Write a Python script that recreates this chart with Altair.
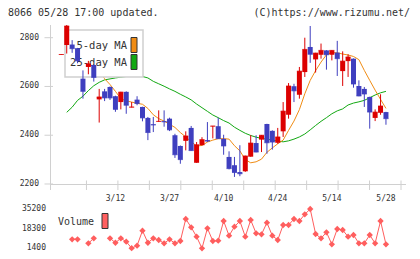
import altair as alt
import pandas as pd

# ---- session data (61 trading days, index 0 .. 60) ----
opens = [2729, 2770, 2772, 2757, 2632, 2680, 2688, 2547, 2580, 2598,
         2560, 2536, 2578, 2514, 2546, 2516, 2471, 2445, 2455, 2458,
         2468, 2400, 2356, 2377, 2430, 2287, 2359, 2380, 2436, 2437,
         2385, 2311, 2277, 2249, 2252, 2312, 2368, 2382, 2446, 2418,
         2369, 2416, 2484, 2601, 2566, 2659, 2762, 2711, 2730, 2748,
         2730, 2739, 2663, 2704, 2714, 2602, 2590, 2557, 2471, 2492,
         2495]
highs = [2731, 2852, 2790, 2758, 2666, 2705, 2690, 2590, 2590, 2600,
         2562, 2578, 2580, 2536, 2560, 2517, 2475, 2475, 2502, 2502,
         2472, 2406, 2358, 2416, 2438, 2372, 2392, 2454, 2438, 2472,
         2402, 2334, 2311, 2359, 2316, 2400, 2400, 2401, 2447, 2420,
         2430, 2536, 2614, 2611, 2680, 2800, 2848, 2738, 2776, 2749,
         2749, 2787, 2744, 2732, 2715, 2625, 2598, 2558, 2506, 2568,
         2496]
lows = [2729, 2735, 2738, 2695, 2550, 2650, 2620, 2452, 2540, 2545,
        2496, 2506, 2488, 2514, 2523, 2457, 2380, 2413, 2455, 2435,
        2417, 2307, 2283, 2338, 2337, 2287, 2359, 2372, 2387, 2386,
        2320, 2260, 2229, 2232, 2250, 2312, 2330, 2331, 2324, 2341,
        2365, 2393, 2468, 2536, 2550, 2639, 2697, 2657, 2714, 2669,
        2707, 2643, 2602, 2639, 2595, 2560, 2516, 2427, 2458, 2484,
        2443]
closes = [2731, 2848, 2755, 2705, 2580, 2693, 2637, 2557, 2553, 2553,
          2506, 2577, 2523, 2516, 2530, 2471, 2411, 2442, 2457, 2455,
          2422, 2320, 2300, 2397, 2337, 2361, 2382, 2376, 2438, 2386,
          2356, 2263, 2247, 2242, 2315, 2368, 2331, 2400, 2369, 2372,
          2393, 2499, 2602, 2582, 2663, 2752, 2732, 2737, 2748, 2730,
          2748, 2714, 2704, 2721, 2610, 2561, 2569, 2495, 2495, 2520,
          2468]
ma5 = [None, 2688, 2722, 2725, 2715, 2705, 2690, 2662, 2632, 2608,
       2580, 2550, 2541, 2536, 2531, 2527, 2510, 2484, 2468, 2458,
       2445, 2432, 2411, 2393, 2374, 2356, 2358, 2372, 2380, 2386,
       2386, 2384, 2357, 2336, 2300, 2287, 2291, 2302, 2330, 2348,
       2365, 2380, 2420, 2458, 2505, 2570, 2625, 2665, 2700, 2730,
       2739, 2738, 2733, 2729, 2723, 2710, 2666, 2625, 2585, 2547,
       2510]
ma25 = [None, 2494, 2515, 2543, 2560, 2583, 2603, 2617, 2627, 2631,
        2635, 2638, 2641, 2642, 2642, 2641, 2635, 2621, 2611, 2601,
        2590, 2580, 2568, 2557, 2545, 2528, 2513, 2498, 2483, 2472,
        2460, 2450, 2433, 2420, 2408, 2399, 2392, 2387, 2384, 2380,
        2376, 2373, 2377, 2384, 2393, 2405, 2422, 2440, 2457, 2472,
        2488, 2500, 2508, 2524, 2532, 2537, 2543, 2554, 2565, 2574,
        2580]
volume = [None, None, 9140, 9140, None, 5700, 10000, None, None, 10000,
          6200, 10000, 7100, 1500, 3640, 16540, 6200, 10000, 8540, 5700,
          9140, 5700, 7680, 26600, 19460, 11380, 1400, 18600, 7680, 7940,
          24880, 12240, 19980, 24880, 11380, 25740, 14300, 13440, 23420, 12240,
          8540, 21440, 21440, 26600, 24880, 30640, 35200, 13700, 10000, 15160,
          4840, 18000, 17140, 11380, 12840, 5700, 5700, 12840, 5700, 24880,
          4840]

date_ticks = [10, 20, 30, 40, 50, 60]
date_labels = ["3/12", "3/27", "4/10", "4/24", "5/14", "5/28"]
price_ticks = [2200, 2400, 2600, 2800]
volume_ticks = [1400, 18300, 35200]

title_left = "8066 05/28 17:00 updated."
title_right = "(C)https://www.rizumu.net/"

# ---- styling ----
FONT = "DejaVu Sans Mono"
TEXT = "#333333"
GRID = "#d0d0d0"
RED = "#dc0000"
BLUE = "#3f3fbf"
ORANGE = "#f08c14"
GREEN = "#12a812"
VOLC = "#ff5e5e"

W, H = 356, 230
X_DOMAIN = [-1.168, 62.78]
PRICE_DOMAIN = [1908.8, 2852.1]
VOL_DOMAIN = [-4362, 193449]

n = len(closes)
days = list(range(n))

candles = pd.DataFrame({"i": days, "open": opens, "high": highs,
                        "low": lows, "close": closes,
                        "ma5": ma5, "ma25": ma25})
candles["dir"] = ["up" if c >= o else "down" for o, c in zip(opens, closes)]

# split the volume series into runs of consecutive sessions
seg, run, prev = [], 0, None
for v in volume:
    if v is not None and prev is None:
        run += 1
    seg.append(run)
    prev = v
vol_df = pd.DataFrame({"i": days, "vol": volume, "seg": seg}).dropna()

one = pd.DataFrame({"k": [0]})

xs = alt.Scale(domain=X_DOMAIN, nice=False, zero=False)
ps = alt.Scale(domain=PRICE_DOMAIN, nice=False, zero=False)
vs = alt.Scale(domain=VOL_DOMAIN, nice=False, zero=False)
dir_color = alt.Scale(domain=["up", "down"], range=[RED, BLUE])

X = alt.X("i:Q", scale=xs, axis=None)

# ---- price panel ----
ma25_line = alt.Chart(candles).mark_line(color=GREEN, strokeWidth=1).encode(
    x=X, y=alt.Y("ma25:Q", scale=ps, axis=None))
ma5_line = alt.Chart(candles).mark_line(color=ORANGE, strokeWidth=1).encode(
    x=X, y=alt.Y("ma5:Q", scale=ps, axis=None))

legend_box = alt.Chart(one).mark_rect(fill="white", stroke=GRID, strokeWidth=1.5).encode(
    x=alt.value(15), x2=alt.value(93), y=alt.value(5), y2=alt.value(52))
legend_ma5 = alt.Chart(one).mark_text(text="5-day MA", align="right", baseline="middle",
                                      font=FONT, fontSize=10.5, color=TEXT).encode(
    x=alt.value(77), y=alt.value(21))
legend_ma25 = alt.Chart(one).mark_text(text="25-day MA", align="right", baseline="middle",
                                       font=FONT, fontSize=10.5, color=TEXT).encode(
    x=alt.value(77), y=alt.value(37.7))
swatch_ma5 = alt.Chart(one).mark_rect(fill=ORANGE, stroke="#333", strokeWidth=1).encode(
    x=alt.value(81), x2=alt.value(87), y=alt.value(12.5), y2=alt.value(27.5))
swatch_ma25 = alt.Chart(one).mark_rect(fill=GREEN, stroke="#333", strokeWidth=1).encode(
    x=alt.value(81), x2=alt.value(87), y=alt.value(29.5), y2=alt.value(44.5))

wicks = alt.Chart(candles).mark_rule(strokeWidth=1).encode(
    x=X, y=alt.Y("low:Q", scale=ps, axis=None), y2="high:Q",
    color=alt.Color("dir:N", scale=dir_color, legend=None))
bodies = alt.Chart(candles).mark_bar(size=5).encode(
    x=X, y=alt.Y("open:Q", scale=ps, axis=None), y2="close:Q",
    color=alt.Color("dir:N", scale=dir_color, legend=None))
close_marks = alt.Chart(candles).mark_tick(orient="horizontal", size=5, thickness=1).encode(
    x=X, y=alt.Y("close:Q", scale=ps, axis=None),
    color=alt.Color("dir:N", scale=dir_color, legend=None))

# frame lines, tick marks and axis labels
y_line = alt.Chart(one).mark_rule(color=GRID, strokeWidth=1).encode(
    x=alt.value(0.5), y=alt.value(0), y2=alt.value(165))
x_line = alt.Chart(one).mark_rule(color=GRID, strokeWidth=1).encode(
    x=alt.value(0), x2=alt.value(W), y=alt.value(159.5))
x_tick_pos = [X_DOMAIN[0] + k / 11 * (X_DOMAIN[1] - X_DOMAIN[0]) for k in range(1, 12)]
x_ticks = alt.Chart(pd.DataFrame({"t": x_tick_pos})).mark_rule(color=GRID, strokeWidth=1).encode(
    x=alt.X("t:Q", scale=xs, axis=None), y=alt.value(155.5), y2=alt.value(165))
y_ticks = alt.Chart(pd.DataFrame({"p": price_ticks})).mark_rule(color=GRID, strokeWidth=1).encode(
    y=alt.Y("p:Q", scale=ps, axis=None), x=alt.value(-5.5), x2=alt.value(3))

x_labels = alt.Chart(pd.DataFrame({"i": date_ticks, "lab": date_labels})).mark_text(
    align="center", baseline="alphabetic", font=FONT, fontSize=8, color=TEXT).encode(
    x=X, y=alt.value(176), text="lab:N")
y_labels = alt.Chart(pd.DataFrame({"p": price_ticks})).mark_text(
    align="right", baseline="middle", font=FONT, fontSize=8, color=TEXT).encode(
    y=alt.Y("p:Q", scale=ps, axis=None), x=alt.value(-11), text="p:Q")

head_left = alt.Chart(one).mark_text(text=title_left, align="left", baseline="middle",
                                     font=FONT, fontSize=10, color=TEXT).encode(
    x=alt.value(-42), y=alt.value(-12))
head_right = alt.Chart(one).mark_text(text=title_right, align="right", baseline="middle",
                                      font=FONT, fontSize=10, color=TEXT).encode(
    x=alt.value(360), y=alt.value(-12))

price_panel = alt.layer(
    ma25_line, ma5_line, legend_box, legend_ma5, legend_ma25, swatch_ma5, swatch_ma25,
    y_line, x_line, x_ticks, y_ticks, x_labels, y_labels,
    wicks, bodies, close_marks, head_left, head_right)

# ---- volume panel ----
vol_line = alt.Chart(vol_df).mark_line(color=VOLC, strokeWidth=1).encode(
    x=X, y=alt.Y("vol:Q", scale=vs, axis=None), detail="seg:N")
vol_pts = alt.Chart(vol_df).mark_point(shape="diamond", filled=True, size=40,
                                       color=VOLC, opacity=1).encode(
    x=X, y=alt.Y("vol:Q", scale=vs, axis=None))
vol_labels = alt.Chart(pd.DataFrame({"vol": volume_ticks})).mark_text(
    align="right", baseline="middle", font=FONT, fontSize=8, color=TEXT).encode(
    y=alt.Y("vol:Q", scale=vs, axis=None), x=alt.value(-4), text="vol:Q")
vol_text = alt.Chart(one).mark_text(text="Volume", align="right", baseline="middle",
                                    font=FONT, fontSize=10, color=TEXT).encode(
    x=alt.value(44), y=alt.value(197))
vol_swatch = alt.Chart(one).mark_rect(fill="#ff6060", stroke="#333", strokeWidth=1).encode(
    x=alt.value(52), x2=alt.value(58), y=alt.value(188.5), y2=alt.value(203.5))

volume_panel = alt.layer(vol_line, vol_pts, vol_labels, vol_text, vol_swatch)

chart = alt.layer(price_panel, volume_panel).resolve_scale(
    y="independent"
).properties(
    width=W, height=H,
    autosize=alt.AutoSizeParams(type="none"),
    padding={"left": 50, "top": 25, "right": 14, "bottom": 4},
    background="white",
).configure_view(strokeWidth=0)

chart.save("out.html", embed_options={"renderer": "svg", "actions": False})
